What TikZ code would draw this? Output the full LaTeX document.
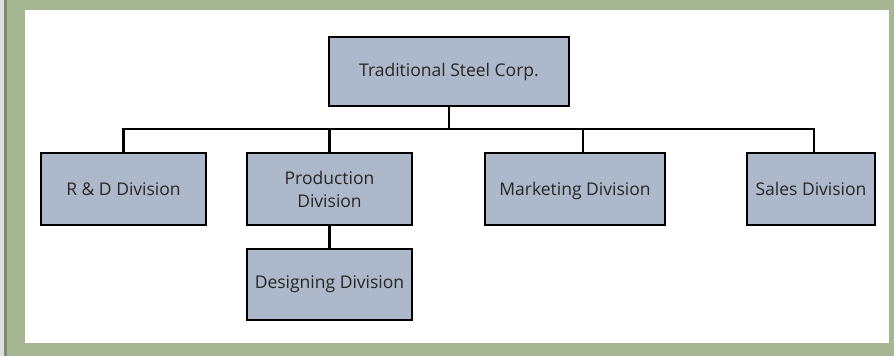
\documentclass[tikz,border=0pt]{standalone}
\usepackage{fontspec}
\setmainfont{Open Sans}
\definecolor{framegreen}{HTML}{A6B592}
\definecolor{frameedge}{HTML}{7F8C70}
\definecolor{boxfill}{HTML}{ADB9CA}
\definecolor{txt}{HTML}{262626}
\begin{document}
\begin{tikzpicture}[x = 1pt, y = -1pt,
                    font = \fontsize{17.5}{23}\selectfont]
% style of boxes
\tikzset{unitbox/.style={fill=boxfill,draw=black,line width=2.4pt,text=txt,
                         inner sep=0pt,align=center,minimum height=72pt}}
\tikzset{link/.style={black,line width=2.4pt}}
\useasboundingbox (0,0) rectangle (894,356);
% frame
\fill [framegreen] (0,0) rectangle (894,356);
\fill [gray!25] (0,0) rectangle (4,356);
\fill [frameedge] (4,0) rectangle (7,356);
\fill [white] (25,10) rectangle (889,343);
% connectors
\coordinate (bus) at (0,129);
% boxes
\node [unitbox, minimum width=240pt, minimum height=69pt] (corp) at (449,71.5) {Traditional Steel Corp.};
\node [unitbox, minimum width=165pt] (rd)    at (123.5,189) {R \& D Division};
\node [unitbox, minimum width=165pt] (prod)  at (329.5,189) {Production\\Division};
\node [unitbox, minimum width=165pt, minimum height=71pt] (des) at (329.5,284.5) {Designing Division};
\node [unitbox, minimum width=180pt, text depth=0pt] (mkt) at (575,189) {Marketing Division};
\node [unitbox, minimum width=128pt] (sales) at (811,189) {Sales Division};
\draw [link] (corp.south) -- (corp.south |- bus);
\draw [link] (rd.north) -- (rd.north |- bus) -| ([xshift=3pt]sales.north);
\draw [link] (prod.north) -- (prod.north |- bus);
\draw [link] ([xshift=8pt]mkt.north) -- ([xshift=8pt]mkt.north |- bus);
\draw [link] (prod.south) -- (des.north);
\end{tikzpicture}
\end{document}
